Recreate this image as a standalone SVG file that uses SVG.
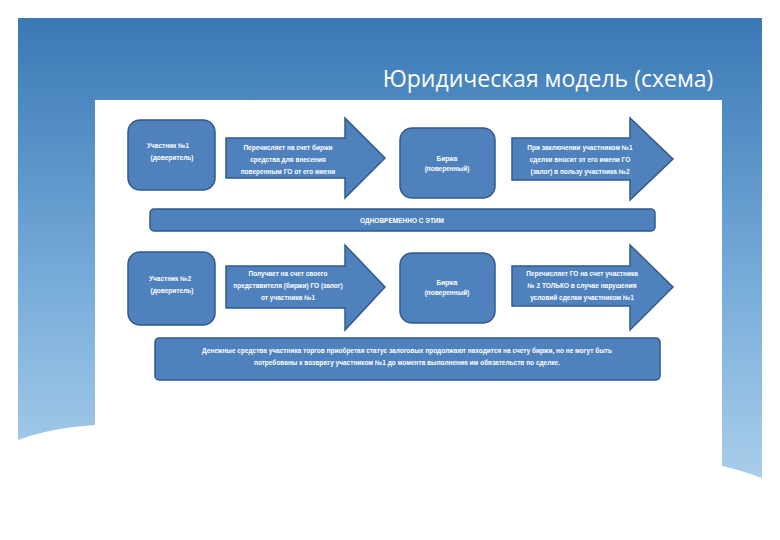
<svg xmlns="http://www.w3.org/2000/svg" width="780" height="540" viewBox="0 0 780 540">
<defs>
<linearGradient id="bg" x1="0" y1="0" x2="0" y2="1">
<stop offset="0" stop-color="#3a78b5"/><stop offset="0.6" stop-color="#7aaedb"/><stop offset="1" stop-color="#a9cdea"/>
</linearGradient>
<style>
.n{fill:#4f81bd;stroke:#2f5a8c;stroke-width:1.5}
.t{fill:#fff;font-family:"Liberation Sans",Arial,sans-serif;font-size:6.5px;font-weight:bold;text-anchor:middle}
</style>
</defs>
<path d="M18,18 H762 V478 Q740,470 722,466 V425 H95 V425 Q50,428 18,440 Z" fill="url(#bg)"/>
<rect x="95" y="100" width="627" height="325" fill="#fff"/>
<text x="548" y="87" fill="#fff" font-family="'Open Sans','Liberation Sans',sans-serif" font-size="23" text-anchor="middle">Юридическая модель (схема)</text>
<g id="p1"><rect class="n" x="128" y="120" width="87" height="70" rx="12"/>
<text class="t" x="168" y="148">Участник №1</text><text class="t" x="172" y="160">(доверитель)</text></g>
<g id="a1"><path class="n" d="M226,138 H345 V118 L385,158 L345,198 V178 H226 Z"/>
<text class="t" x="288" y="150">Перечисляет на счет биржи</text><text class="t" x="288" y="162">средства для внесения</text><text class="t" x="288" y="174">поверенным ГО от его имени</text></g>
<g id="b1"><rect class="n" x="400" y="128" width="95" height="70" rx="12"/>
<text class="t" x="447" y="161">Биржа</text><text class="t" x="447" y="171">(поверенный)</text></g>
<g id="a2"><path class="n" d="M512,138 H630 V118 L673,159 L630,200 V180 H512 Z"/>
<text class="t" x="580" y="150">При заключении участником №1</text><text class="t" x="580" y="162">сделки вносит от его имени ГО</text><text class="t" x="580" y="174">(залог) в пользу участника №2</text></g>
<g id="bar"><rect class="n" x="150" y="209" width="505" height="22" rx="4"/>
<text class="t" x="402" y="223">ОДНОВРЕМЕННО С ЭТИМ</text></g>
<g id="p2"><rect class="n" x="128" y="252" width="87" height="73" rx="12"/>
<text class="t" x="170" y="281">Участник №2</text><text class="t" x="172" y="293">(доверитель)</text></g>
<g id="a3"><path class="n" d="M226,266 H345 V245 L385,287 L345,330 V308 H226 Z"/>
<text class="t" x="288" y="276">Получает на счет своего</text><text class="t" x="288" y="288">представителя (биржи) ГО (залог)</text><text class="t" x="288" y="300">от участника №1</text></g>
<g id="b2"><rect class="n" x="400" y="253" width="95" height="70" rx="12"/>
<text class="t" x="447" y="285">Биржа</text><text class="t" x="447" y="295">(поверенный)</text></g>
<g id="a4"><path class="n" d="M512,266 H630 V245 L673,287 L630,330 V306 H512 Z"/>
<text class="t" x="582" y="276">Перечисляет ГО на счет участника</text><text class="t" x="582" y="288">№ 2 ТОЛЬКО в случае нарушения</text><text class="t" x="582" y="300">условий сделки участником №1</text></g>
<g id="note"><rect class="n" x="155" y="338" width="505" height="42" rx="4"/>
<text class="t" x="407" y="353">Денежные средства участника торгов приобретая статус залоговых продолжают находится на счету биржи, но не могут быть</text>
<text class="t" x="407" y="365">потребованы к возврату участником №1 до момента выполнения им обязательств по сделке.</text></g>
<g id="connectors"/>
</svg>
